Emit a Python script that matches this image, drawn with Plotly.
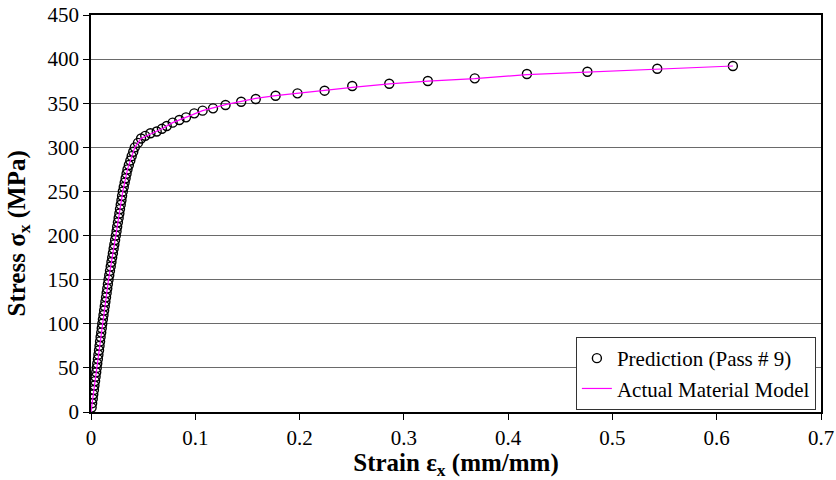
import plotly.graph_objects as go

# Prediction (Pass # 9) - open circles
pred_strain = [0.0006, 0.0011, 0.0017, 0.0022, 0.0028, 0.0033, 0.0039, 0.0044, 0.0050, 0.0055,
               0.0060, 0.0066, 0.0071, 0.0077, 0.0082, 0.0087, 0.0092, 0.0098, 0.0103, 0.0108,
               0.0114, 0.0120, 0.0126, 0.0132, 0.0138, 0.0144, 0.0150, 0.0156, 0.0162, 0.0168,
               0.0175, 0.0182, 0.0189, 0.0196, 0.0203, 0.0210, 0.0217, 0.0224, 0.0231, 0.0238,
               0.0245, 0.0251, 0.0258, 0.0265, 0.0272, 0.0278, 0.0285, 0.0292, 0.0298, 0.0305,
               0.0314, 0.0323, 0.0332, 0.0341, 0.0350, 0.0363, 0.0377, 0.0390, 0.0405, 0.0420,
               0.0450, 0.0480, 0.0520, 0.0570, 0.0630, 0.0680, 0.0726, 0.0783, 0.0847, 0.0911,
               0.0990, 0.1070, 0.1170, 0.1290, 0.1440, 0.1580, 0.1770, 0.1980, 0.2240, 0.2505,
               0.2860, 0.3230, 0.3680, 0.4180, 0.4760, 0.5430, 0.6155]
pred_stress = [5, 10, 15, 20, 25, 30, 35, 40, 45, 50,
               55, 60, 65, 70, 75, 80, 85, 90, 95, 100,
               105, 110, 115, 120, 125, 130, 135, 140, 145, 150,
               155, 160, 165, 170, 175, 180, 185, 190, 195, 200,
               205, 210, 215, 220, 225, 230, 235, 240, 245, 250,
               255, 260, 265, 270, 275, 280, 285, 290, 295, 300,
               305, 310, 313, 316, 318, 321, 324.2, 328, 331, 334,
               338.5, 341.6, 344.2, 348, 351.7, 354.8, 358.5, 361.2, 364.2, 369.5,
               372.1, 375.2, 378.2, 383.1, 385.7, 389.1, 392.2]

# Actual Material Model - magenta line
model_strain = [0.0, 0.0055, 0.0108, 0.0168, 0.0238, 0.0305, 0.0350, 0.0390, 0.0420, 0.0480,
                0.0566, 0.0680, 0.0783, 0.0911, 0.1070, 0.1290, 0.1440, 0.1580, 0.1770, 0.1980,
                0.2240, 0.2505, 0.2860, 0.3230, 0.3680, 0.4180, 0.4760, 0.5430, 0.6155]
model_stress = [0, 50, 100, 150, 200, 250, 275, 290, 300, 310,
                315, 321, 328, 334, 341.6, 348.5, 352.5, 355.5, 358.5, 361.5,
                364.5, 368.0, 372.0, 375.0, 377.8, 382.5, 385.5, 388.3, 392.2]

x_ticks = [0, 0.1, 0.2, 0.3, 0.4, 0.5, 0.6, 0.7]
x_tick_labels = ["0", "0.1", "0.2", "0.3", "0.4", "0.5", "0.6", "0.7"]
y_ticks = [0, 50, 100, 150, 200, 250, 300, 350, 400, 450]

font_family = "Liberation Serif"

fig = go.Figure()
fig.add_trace(go.Scatter(
    x=pred_strain, y=pred_stress, mode="markers", name="Prediction (Pass # 9)",
    marker=dict(symbol="circle-open", size=9, color="black", line=dict(width=1.4, color="black")),
))
fig.add_trace(go.Scatter(
    x=model_strain, y=model_stress, mode="lines", name="Actual Material Model",
    line=dict(color="#ff00ff", width=1.2),
))

fig.update_layout(
    width=836, height=480,
    margin=dict(l=91, r=15, t=15, b=68),
    paper_bgcolor="white", plot_bgcolor="white",
    font=dict(family=font_family, size=21, color="black"),
    showlegend=True,
    legend=dict(
        x=0.993, y=0.005, xanchor="right", yanchor="bottom",
        bgcolor="white", bordercolor="#333333", borderwidth=1,
        font=dict(family=font_family, size=21, color="black"),
        tracegroupgap=0, itemwidth=30,
    ),
    xaxis=dict(
        range=[0, 0.7], tickvals=x_ticks, ticktext=x_tick_labels,
        showgrid=False, zeroline=False, automargin=False,
        showline=True, linecolor="black", linewidth=1.5, mirror=True,
        ticks="outside", ticklen=6, tickcolor="black",
        tickfont=dict(family=font_family, size=21),
        title=dict(text="<b>Strain ε<sub>x</sub> (mm/mm)</b>", font=dict(family=font_family, size=25), standoff=6),
    ),
    yaxis=dict(
        range=[0, 450], tickvals=y_ticks,
        showgrid=True, gridcolor="#6a6a6a", gridwidth=1, zeroline=False, automargin=False,
        showline=True, linecolor="black", linewidth=1.5, mirror=True,
        ticks="outside", ticklen=6, tickcolor="black",
        tickfont=dict(family=font_family, size=21),
    ),
    annotations=[dict(
        text="<b>Stress σ<sub>x</sub> (MPa)</b>", textangle=-90,
        xref="paper", yref="paper", x=0, y=0.5, xanchor="center", yanchor="middle",
        xshift=-73, yshift=-20, showarrow=False, font=dict(family=font_family, size=25, color="black"),
    )],
)

fig.write_html("out.html", config={"displayModeBar": False},
               post_script="document.body.style.margin='0px';document.body.style.padding='0px';")
